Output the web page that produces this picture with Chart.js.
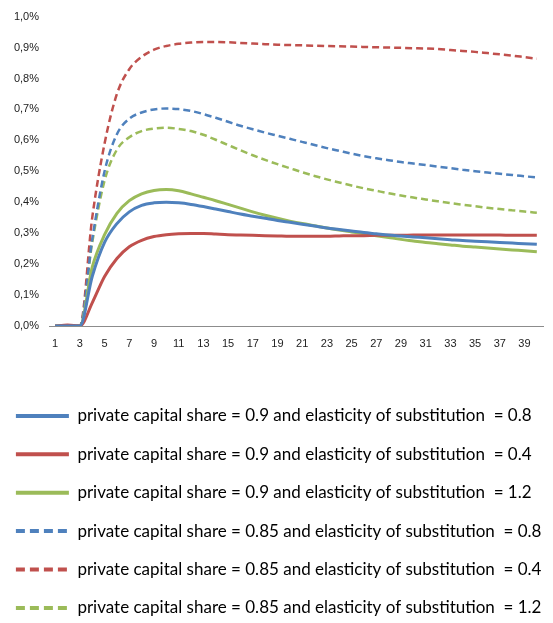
<!DOCTYPE html>
<html>
<head>
<meta charset="utf-8">
<script src="https://cdn.jsdelivr.net/npm/chart.js@4"></script>
<style>
  html, body { margin: 0; padding: 0; background: #fff; }
  #wrap { width: 553px; height: 623px; }
</style>
</head>
<body>
<div id="wrap"><canvas id="grafico"></canvas></div>
<script>
// periods 1..40 (only odd ones get a label)
const periods = Array.from({ length: 40 }, (_, i) => String(i + 1));

const yTicks = [0, 0.1, 0.2, 0.3, 0.4, 0.5, 0.6, 0.7, 0.8, 0.9, 1.0];

const seriesNames = [
  'private capital share = 0.9 and elasticity of substitution  = 0.8',
  'private capital share = 0.9 and elasticity of substitution  = 0.4',
  'private capital share = 0.9 and elasticity of substitution  = 1.2',
  'private capital share = 0.85 and elasticity of substitution  = 0.8',
  'private capital share = 0.85 and elasticity of substitution  = 0.4',
  'private capital share = 0.85 and elasticity of substitution  = 1.2',
];

// values in %
const share09Elast08 = [0, 0, 0, 0.16, 0.27, 0.331, 0.369, 0.39, 0.398, 0.4, 0.398, 0.393, 0.386, 0.378, 0.37, 0.362, 0.355, 0.348, 0.341, 0.335,
  0.329, 0.323, 0.317, 0.312, 0.307, 0.302, 0.298, 0.294, 0.291, 0.288, 0.285, 0.282, 0.279, 0.276, 0.274, 0.272, 0.27, 0.268, 0.266, 0.264];
const share09Elast04 = [0, 0.003, 0, 0.075, 0.16, 0.218, 0.256, 0.277, 0.289, 0.295, 0.298, 0.299, 0.299, 0.297, 0.295, 0.294, 0.293, 0.292, 0.291, 0.29,
  0.29, 0.29, 0.29, 0.291, 0.292, 0.292, 0.293, 0.293, 0.293, 0.294, 0.294, 0.294, 0.294, 0.294, 0.294, 0.294, 0.294, 0.293, 0.293, 0.293];
const share09Elast12 = [0, 0, 0, 0.19, 0.295, 0.364, 0.405, 0.427, 0.438, 0.441, 0.437, 0.427, 0.416, 0.405, 0.393, 0.381, 0.369, 0.358, 0.348, 0.339,
  0.331, 0.324, 0.317, 0.31, 0.304, 0.298, 0.292, 0.286, 0.28, 0.275, 0.27, 0.266, 0.262, 0.258, 0.255, 0.252, 0.249, 0.246, 0.243, 0.24];
const share085Elast08 = [0, 0, 0, 0.28, 0.5, 0.62, 0.67, 0.69, 0.7, 0.703, 0.701, 0.695, 0.685, 0.673, 0.66, 0.647, 0.636, 0.625, 0.615, 0.605,
  0.595, 0.585, 0.575, 0.566, 0.557, 0.549, 0.542, 0.536, 0.53, 0.525, 0.52, 0.515, 0.51, 0.505, 0.5, 0.496, 0.492, 0.488, 0.484, 0.48];
const share085Elast04 = [0, 0, 0, 0.35, 0.59, 0.75, 0.83, 0.87, 0.893, 0.905, 0.912, 0.916, 0.918, 0.918, 0.917, 0.915, 0.913, 0.911, 0.909, 0.908,
  0.907, 0.906, 0.905, 0.904, 0.903, 0.902, 0.901, 0.9, 0.899, 0.898, 0.897, 0.895, 0.892, 0.889, 0.886, 0.882, 0.878, 0.874, 0.869, 0.864];
const share085Elast12 = [0, 0, 0, 0.27, 0.47, 0.57, 0.61, 0.63, 0.638, 0.641, 0.637, 0.63, 0.618, 0.602, 0.585, 0.568, 0.552, 0.537, 0.523, 0.51,
  0.497, 0.485, 0.474, 0.464, 0.454, 0.445, 0.437, 0.429, 0.422, 0.415, 0.409, 0.403, 0.397, 0.392, 0.387, 0.382, 0.378, 0.374, 0.37, 0.366];

const azul = '#4F81BD';
const rojo = '#C0504D';
const verde = '#9BBB59';

const serie = (label, data, color, dashed) => ({
  label,
  data,
  borderColor: color,
  backgroundColor: color,
  borderWidth: dashed ? 2.5 : 3,
  borderDash: dashed ? [7, 4] : [],
  pointRadius: 0,
  cubicInterpolationMode: 'monotone',
  fill: false,
});

const datos = {
  labels: periods,
  datasets: [
    serie(seriesNames[0], share09Elast08, azul, false),
    serie(seriesNames[1], share09Elast04, rojo, false),
    serie(seriesNames[2], share09Elast12, verde, false),
    serie(seriesNames[3], share085Elast08, azul, true),
    serie(seriesNames[4], share085Elast04, rojo, true),
    serie(seriesNames[5], share085Elast12, verde, true),
  ],
};

const tickFont = { family: '"Liberation Sans", Arial, sans-serif', size: 11 };

const config = {
  type: 'line',
  data: datos,
  options: {
    responsive: true,
    maintainAspectRatio: false,
    animation: false,
    layout: { padding: { top: 15, left: -5.5, right: 10, bottom: -3.4 } },
    plugins: {
      tooltip: { enabled: false },
      legend: {
        position: 'bottom',
        align: 'start',
        labels: {
          usePointStyle: true,
          pointStyle: 'line',
          pointStyleWidth: 53,
          padding: 21.4,
          color: '#1a1a1a',
          font: { family: 'Lato, "Open Sans", sans-serif', size: 17 },
          generateLabels: (chart) => chart.data.datasets.map((ds, i) => ({
            text: ds.label,
            strokeStyle: ds.borderColor,
            fillStyle: ds.borderColor,
            lineWidth: 4,
            lineDash: ds.borderDash.length ? [9, 5] : [],
            pointStyle: 'line',
            hidden: false,
            datasetIndex: i,
          })),
        },
      },
    },
    scales: {
      x: {
        offset: true,
        grid: { display: false, drawTicks: false },
        border: { display: true, color: '#8c8c8c', width: 1 },
        ticks: {
          autoSkip: false,
          maxRotation: 0,
          padding: 11,
          color: '#222',
          font: tickFont,
          callback: (v, i) => (i % 2 === 0 ? periods[i] : ''),
        },
        afterFit: (scale) => { scale.height = 60; },
      },
      y: {
        min: 0,
        max: 1.0,
        grid: { display: false, drawTicks: false },
        border: { display: false },
        afterBuildTicks: (scale) => { scale.ticks = yTicks.map(v => ({ value: v })); },
        ticks: {
          padding: 10,
          color: '#222',
          font: tickFont,
          callback: (v) => v.toFixed(1).replace('.', ',') + '%',
        },
        afterFit: (scale) => { scale.width = 54.5; },
      },
    },
  },
};

new Chart(document.getElementById('grafico').getContext('2d'), config);
</script>
</body>
</html>
